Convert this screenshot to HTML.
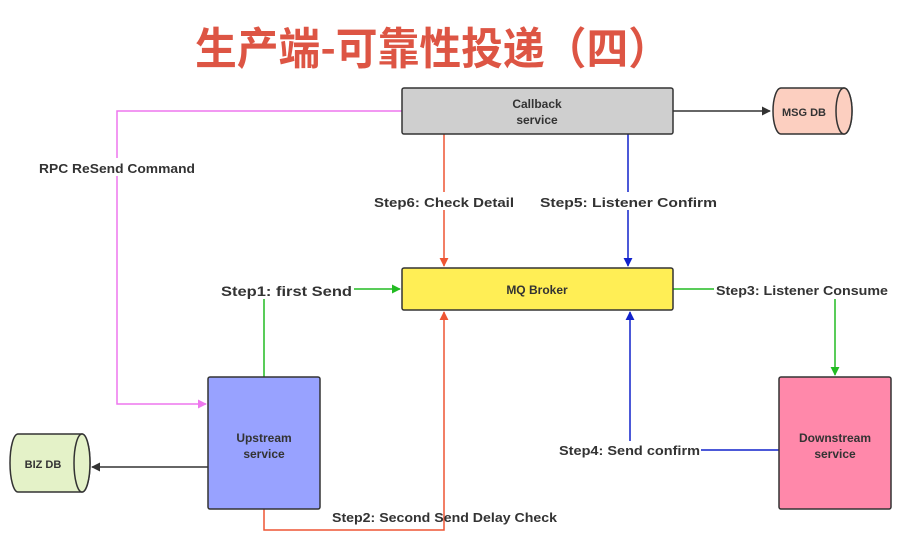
<!DOCTYPE html>
<html><head><meta charset="utf-8"><style>
body{margin:0;background:#fff;width:906px;height:544px;overflow:hidden;font-family:"Liberation Sans","Noto Sans CJK SC",sans-serif}
</style></head><body>
<svg width="906" height="544" xmlns="http://www.w3.org/2000/svg" font-family="Liberation Sans, Noto Sans CJK SC, sans-serif">
<defs>
<marker id="ar" viewBox="0 0 10 10" refX="9" refY="5" markerWidth="6" markerHeight="6" orient="auto-start-reverse"><path d="M0,0L10,5L0,10z" fill="context-stroke"/></marker>
</defs>
<text x="195" y="64" textLength="475" lengthAdjust="spacingAndGlyphs" font-size="44" font-weight="bold" fill="#dd5544" font-family="Noto Sans CJK SC, sans-serif">生产端-可靠性投递（四）</text>
<polyline points="402,111 117,111 117,404 206,404" fill="none" stroke="#ee77ee" stroke-width="1.5" marker-end="url(#ar)"/>
<line x1="444" y1="134" x2="444" y2="266" stroke="#ee5533" stroke-width="1.5" marker-end="url(#ar)"/>
<line x1="628" y1="134" x2="628" y2="266" stroke="#1122cc" stroke-width="1.5" marker-end="url(#ar)"/>
<line x1="673" y1="111" x2="770" y2="111" stroke="#333" stroke-width="1.5" marker-end="url(#ar)"/>
<polyline points="264,377 264,289 400,289" fill="none" stroke="#22bb22" stroke-width="1.5" marker-end="url(#ar)"/>
<polyline points="673,289 835,289 835,375" fill="none" stroke="#22bb22" stroke-width="1.5" marker-end="url(#ar)"/>
<polyline points="264,509 264,530 444,530 444,312" fill="none" stroke="#ee5533" stroke-width="1.5" marker-end="url(#ar)"/>
<polyline points="779,450 630,450 630,312" fill="none" stroke="#1122cc" stroke-width="1.5" marker-end="url(#ar)"/>
<line x1="208" y1="467" x2="92" y2="467" stroke="#333" stroke-width="1.5" marker-end="url(#ar)"/>
<rect x="402" y="88" width="271" height="46" rx="2" fill="#cfcfcf" stroke="#333" stroke-width="1.5"/>
<text x="537" y="108" text-anchor="middle" font-size="12" font-weight="bold" fill="#333">Callback</text>
<text x="537" y="124" text-anchor="middle" font-size="12" font-weight="bold" fill="#333">service</text>
<rect x="402" y="268" width="271" height="42" rx="2" fill="#ffee55" stroke="#333" stroke-width="1.5"/>
<text x="537" y="294" text-anchor="middle" font-size="12" font-weight="bold" fill="#333">MQ Broker</text>
<rect x="208" y="377" width="112" height="132" rx="2" fill="#98a2ff" stroke="#333" stroke-width="1.5"/>
<text x="264" y="442" text-anchor="middle" font-size="12" font-weight="bold" fill="#333">Upstream</text>
<text x="264" y="458" text-anchor="middle" font-size="12" font-weight="bold" fill="#333">service</text>
<rect x="779" y="377" width="112" height="132" rx="2" fill="#ff88aa" stroke="#333" stroke-width="1.5"/>
<text x="835" y="442" text-anchor="middle" font-size="12" font-weight="bold" fill="#333">Downstream</text>
<text x="835" y="458" text-anchor="middle" font-size="12" font-weight="bold" fill="#333">service</text>
<path d="M781,88 L844,88 A8,23 0 0 1 844,134 L781,134 A8,23 0 0 1 781,88z" fill="#fccfc0" stroke="#333" stroke-width="1.5"/>
<ellipse cx="844" cy="111" rx="8" ry="23" fill="#fccfc0" stroke="#333" stroke-width="1.5"/>
<text x="804" y="116" text-anchor="middle" font-size="11" font-weight="bold" fill="#333">MSG DB</text>
<path d="M18,434 L82,434 A8,29 0 0 1 82,492 L18,492 A8,29 0 0 1 18,434z" fill="#e4f2c8" stroke="#333" stroke-width="1.5"/>
<ellipse cx="82" cy="463" rx="8" ry="29" fill="#e4f2c8" stroke="#333" stroke-width="1.5"/>
<text x="43" y="468" text-anchor="middle" font-size="11" font-weight="bold" fill="#333">BIZ DB</text>
<g font-size="13" font-weight="bold" fill="#333">
<rect x="38" y="158" width="158" height="18" fill="#fff"/>
<text x="39" y="173" textLength="156" lengthAdjust="spacingAndGlyphs">RPC ReSend Command</text>
<rect x="372" y="192" width="144" height="18" fill="#fff"/>
<text x="374" y="207" textLength="140" lengthAdjust="spacingAndGlyphs">Step6:  Check Detail</text>
<rect x="538" y="192" width="181" height="18" fill="#fff"/>
<text x="540" y="207" textLength="177" lengthAdjust="spacingAndGlyphs">Step5:  Listener Confirm</text>
<rect x="219" y="281" width="135" height="18" fill="#fff"/>
<text x="221" y="296" font-size="14" textLength="131" lengthAdjust="spacingAndGlyphs">Step1:  first Send</text>
<rect x="714" y="281" width="176" height="18" fill="#fff"/>
<text x="716" y="295" textLength="172" lengthAdjust="spacingAndGlyphs">Step3:  Listener Consume</text>
<rect x="557" y="441" width="144" height="18" fill="#fff"/>
<text x="559" y="455" textLength="141" lengthAdjust="spacingAndGlyphs">Step4:  Send confirm</text>
<text x="332" y="522" textLength="225" lengthAdjust="spacingAndGlyphs">Step2:  Second Send Delay Check</text>
</g>
</svg>
</body></html>
